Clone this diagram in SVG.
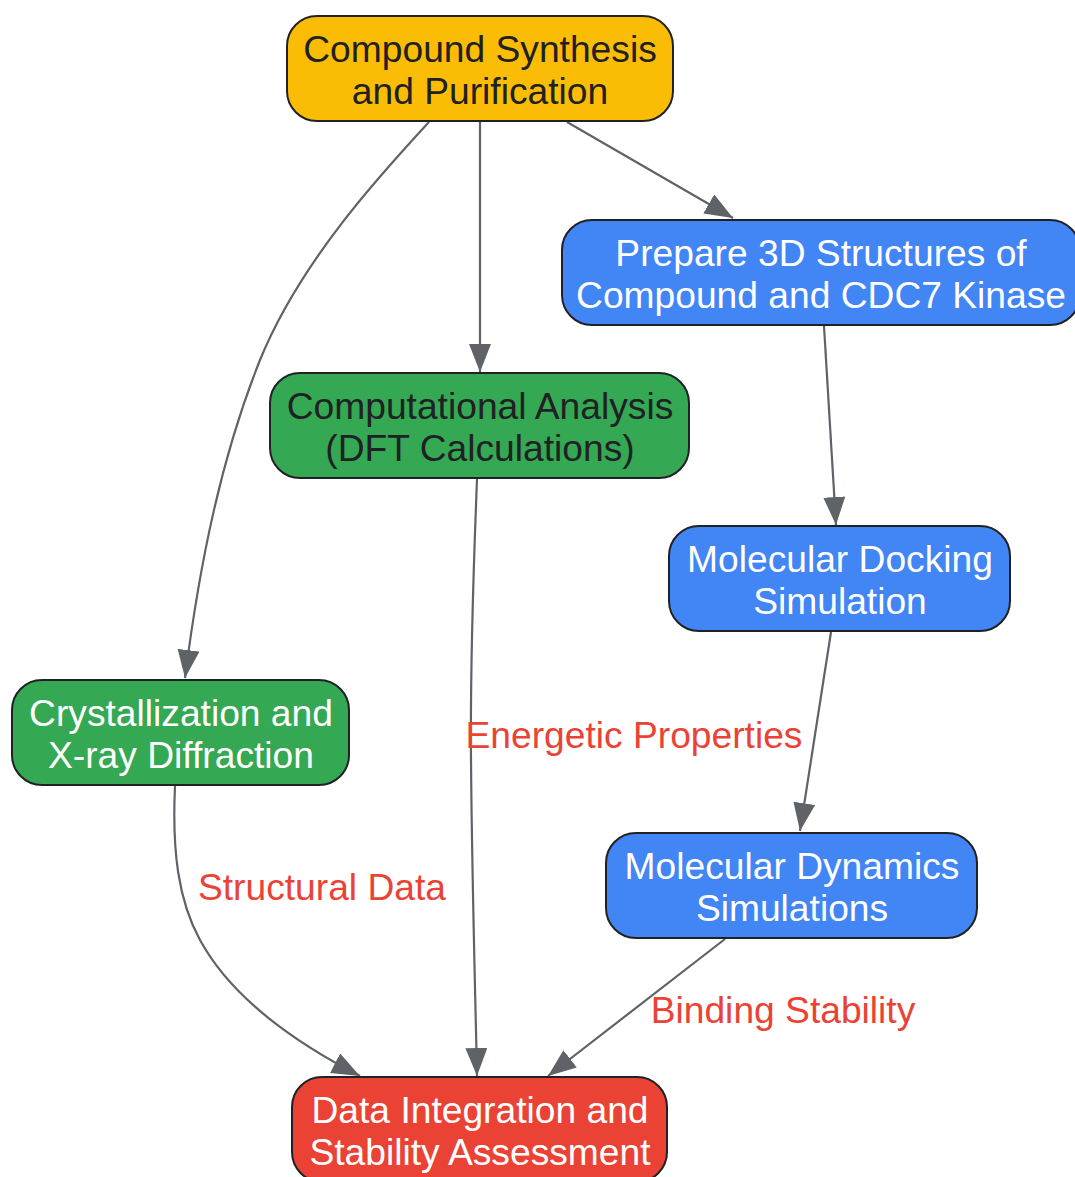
<svg xmlns="http://www.w3.org/2000/svg" width="1075" height="1177" viewBox="0 0 1075 1177">
<style>
.n rect{stroke:#202124;stroke-width:2}
.n text{font-family:"Liberation Sans",Arial,sans-serif;font-size:37.2px;text-anchor:middle}
.dk{fill:#202124}
.lt{fill:#ffffff}
.e path{fill:none;stroke:#5F6368;stroke-width:2.2}
.lbl{font-family:"Liberation Sans",Arial,sans-serif;font-size:37.2px;fill:#EA4335;text-anchor:middle}
</style>
<defs>
<marker id="ah" markerUnits="userSpaceOnUse" markerWidth="30" markerHeight="24" refX="28" refY="11" orient="auto">
<path d="M0,0 L28,11 L0,22 z" fill="#5F6368"/>
</marker>
</defs>
<rect width="1075" height="1177" fill="#ffffff"/>
<g id="connectors" class="e">
<path d="M429,122 C380,175 300,262 260,360 C222,455 200,560 185,678" marker-end="url(#ah)"/>
<path d="M480,122 L480,372" marker-end="url(#ah)"/>
<path d="M567,122 L733,218" marker-end="url(#ah)"/>
<path d="M824,326 L836,525" marker-end="url(#ah)"/>
<path d="M831,632 L800,831" marker-end="url(#ah)"/>
<path d="M175,786 C172,850 178,900 200,940 C230,995 290,1040 360,1076" marker-end="url(#ah)"/>
<path d="M477,479 C474,560 470,650 471,760 C472,880 475,980 477,1076" marker-end="url(#ah)"/>
<path d="M725,939 L548,1076" marker-end="url(#ah)"/>
</g>
<g id="edge-labels">
<text class="lbl" x="322" y="900">Structural Data</text>
<text class="lbl" x="634" y="748">Energetic Properties</text>
<text class="lbl" x="783" y="1023">Binding Stability</text>
</g>
<g id="synthesis" class="n">
<rect x="287" y="16" width="386" height="105" rx="30" fill="#FBBC05"/>
<text class="dk" x="480" y="62">Compound Synthesis</text>
<text class="dk" x="480" y="104">and Purification</text>
</g>
<g id="prepare" class="n">
<rect x="562" y="220" width="518" height="105" rx="30" fill="#4285F4"/>
<text class="lt" x="821" y="266">Prepare 3D Structures of</text>
<text class="lt" x="821" y="308">Compound and CDC7 Kinase</text>
</g>
<g id="computational" class="n">
<rect x="270" y="373" width="419" height="105" rx="30" fill="#34A853"/>
<text class="dk" x="480" y="419">Computational Analysis</text>
<text class="dk" x="480" y="461">(DFT Calculations)</text>
</g>
<g id="docking" class="n">
<rect x="669" y="526" width="341" height="105" rx="30" fill="#4285F4"/>
<text class="lt" x="840" y="572">Molecular Docking</text>
<text class="lt" x="840" y="614">Simulation</text>
</g>
<g id="crystallization" class="n">
<rect x="12" y="680" width="337" height="105" rx="30" fill="#34A853"/>
<text class="lt" x="181" y="726">Crystallization and</text>
<text class="lt" x="181" y="768">X-ray Diffraction</text>
</g>
<g id="dynamics" class="n">
<rect x="606" y="833" width="371" height="105" rx="30" fill="#4285F4"/>
<text class="lt" x="792" y="879">Molecular Dynamics</text>
<text class="lt" x="792" y="921">Simulations</text>
</g>
<g id="integration" class="n">
<rect x="292" y="1077" width="375" height="105" rx="30" fill="#EA4335"/>
<text class="lt" x="480" y="1123">Data Integration and</text>
<text class="lt" x="480" y="1165">Stability Assessment</text>
</g>
</svg>
